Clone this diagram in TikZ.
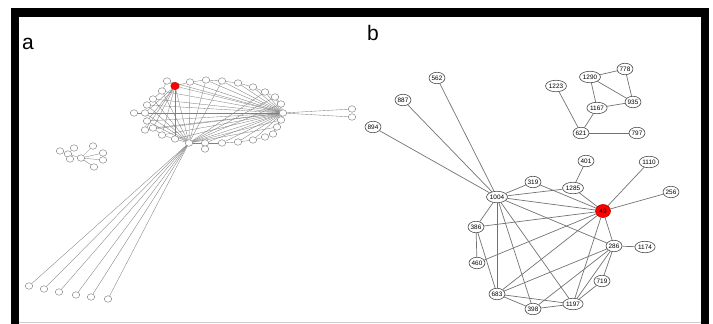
\documentclass[tikz,border=0pt]{standalone}
\usepackage{fontspec}
\setmainfont{Liberation Sans}
\usetikzlibrary{shapes.geometric,backgrounds}
\begin{document}
\begin{tikzpicture}[x=1pt,y=-1pt,
  bnode/.style={ellipse, draw=black!70, fill=white, line width=0.6pt, minimum width=15pt, minimum height=11.5pt, inner xsep=0.3pt, inner ysep=0pt, font=\fontsize{6.4}{7}\selectfont},
  rnode/.style={bnode, fill=red, draw=red!75!black, minimum width=15pt, minimum height=13pt},
  anode/.style={ellipse, draw=black!60, fill=white, line width=0.35pt, minimum width=7.5pt, minimum height=6.5pt, inner sep=0pt},
  arnode/.style={anode, fill=red, draw=red!70!black, minimum width=8.5pt, minimum height=7.5pt},
  bedge/.style={draw=black!55, line width=0.7pt},
  aedge/.style={draw=black!50, line width=0.35pt},
  lbl/.style={anchor=base west, inner sep=0pt, font=\fontsize{21}{21}\selectfont}]
\useasboundingbox (0,0) rectangle (713,324);
% frame
\fill[black] (11,8) rectangle (709,16.7);
\fill[black] (11,8) rectangle (19,324);
\fill[black] (701,8) rectangle (709,324);
\draw[black!20, line width=0.8pt] (19,322.8) -- (701,322.8);
\node[lbl] (la) at (22,49.5) {a};
\node[lbl] (lb) at (367,40.5) {b};
% ---------- panel a nodes ----------
\node[arnode] (ared) at (175,86) {};
\foreach \n/\x/\y in {a1/167/81, a3/190/82, a4/206/80, a5/222/81, a6/238/83, a7/253/87,
  a8/265/92, a9/275/97, a10/281/104, aR/283/113, a12/281/120, a13/277/127, a14/273/134,
  a15/265/137, a16/253/140, a17/238/142, a18/222/143, a19/205/143, a20/205/149, aB/189/143,
  a22/175/139, a23/162/135, a24/153/128, a25/145/130, a26/147/121, a27/145/113, a28/134/113,
  a29/147/105, a30/153/99, a31/162/91,
  f1/352/109, f2/352/117,
  l1/29/286, l2/44/289, l3/59/292, l4/76/295, l5/91/297, l6/108/299,
  c1/60/151, c2/74/148, c3/68/154, c4/70/159, ch/81/158, c5/93/146, c6/103/153, c7/103/160, c8/94/167}
  \node[anode] (\n) at (\x,\y) {};
% ---------- panel b nodes ----------
\node[rnode] (n49) at (603,211) {49};
\foreach \n/\x/\y in {621/581/133, 797/637/133, 1223/556/86, 1290/590/77, 778/625/69,
  935/633/102, 1167/597/108, 562/437/78, 887/403/100, 894/373/127, 401/586/161,
  1110/649/162, 319/533/182, 1285/573/188, 256/671/192, 1004/497/197, 386/476/227,
  286/614/246, 1174/645/247, 460/477/263, 719/602/281, 683/497/294, 1197/573/304, 398/533/309}
  \node[bnode] (n\n) at (\x,\y) {\n};
\begin{pgfonlayer}{background}
% panel a edges
\foreach \u/\v in {a1/ared, ared/a3, a3/a4, a4/a5, a5/a6, a6/a7, a7/a8, a8/a9, a9/a10, a10/aR,
  aR/a12, a12/a13, a13/a14, a14/a15, a15/a16, a16/a17, a17/a18, a18/a19, a19/aB, a19/a20,
  aB/a22, a22/a23, a23/a24, a24/a25, a25/a26, a26/a27, a27/a28, a27/a29, a29/a30, a30/a31, a31/a1,
  aR/ared, aR/a3, aR/a4, aR/a5, aR/a6, aR/a7, aR/a8, aR/a9, aR/a12, aR/a13, aR/a14,
  aR/a16, aR/a17, aR/a18, aR/a19, aR/aB, aR/a22, aR/a23, aR/a24, aR/a25, aR/a26, aR/a27,
  aR/a29, aR/a30, aR/a31, aR/a1, aR/f1, aR/f2,
  ared/a22, ared/aB, ared/a23, ared/a24, ared/a26, ared/a27, ared/a25,
  aB/a4, aB/a3, aB/a29, aB/a30, aB/a31, aB/a27, aB/a26, aB/a8, aB/a9, aB/a10, aB/a12, aB/a13, aB/a5,
  aB/l1, aB/l2, aB/l3, aB/l4, aB/l5, aB/l6,
  c1/c3, c2/c3, c3/c4, c3/ch, ch/c5, ch/c6, ch/c7, ch/c8}
  \draw[aedge] (\u) -- (\v);
% panel b edges
\foreach \u/\v in {894/1004, 887/1004, 562/1004, 1223/621, 621/797, 621/1167, 1167/1290,
  1290/778, 1290/935, 778/935, 1167/935, 401/1285, 1285/49, 1285/1004, 319/1004, 319/49,
  1110/49, 256/49, 1004/49, 1004/386, 1004/683, 1004/398, 1004/1197, 1004/286, 386/49,
  386/460, 386/683, 460/49, 49/286, 49/683, 49/1197, 286/1174, 286/683, 286/398, 286/1197,
  286/719, 719/1197, 683/398, 683/1197, 398/1197}
  \draw[bedge] (n\u) -- (n\v);
\end{pgfonlayer}
\end{tikzpicture}
\end{document}
